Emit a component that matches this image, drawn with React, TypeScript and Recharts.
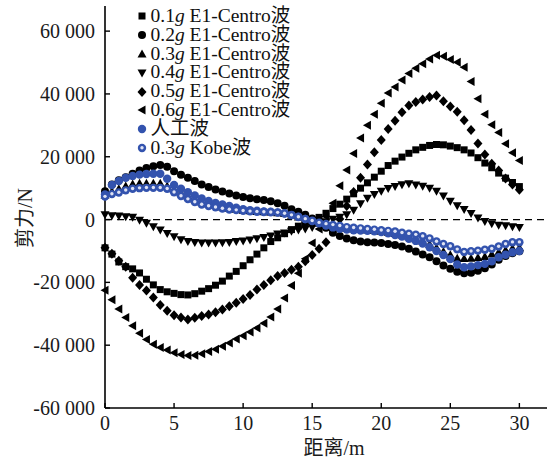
import { ScatterChart, Scatter, XAxis, YAxis, ReferenceLine, Legend } from "recharts";

// Distance along the member (m)
const distance = [
  0, 0.5, 1, 1.5, 2, 2.5, 3, 3.5, 4, 4.5, 5, 5.5, 6, 6.5, 7, 7.5, 8, 8.5, 9, 9.5,
  10, 10.5, 11, 11.5, 12, 12.5, 13, 13.5, 14, 14.5, 15, 15.5, 16, 16.5, 17, 17.5, 18, 18.5, 19, 19.5,
  20, 20.5, 21, 21.5, 22, 22.5, 23, 23.5, 24, 24.5, 25, 25.5, 26, 26.5, 27, 27.5, 28, 28.5, 29, 29.5, 30,
];

// Shear force (N) for each load case
const elCentro01 = [
  -9000, -11000, -13500, -15000, -15700, -17000, -19000, -20800, -22300, -23000,
  -23500, -23900, -24000, -23600, -22800, -22000, -20900, -19600, -18000, -16500,
  -14700, -12800, -11000, -9000, -7000, -5800, -4500, -3200, -2100, -1200,
  -300, 700, 2000, 3500, 4900, 6500, 8200, 10000, 11700, 13500,
  15400, 17200, 18600, 19900, 21100, 22200, 23000, 23600, 23900, 23800,
  23400, 22900, 22200, 21200, 19700, 18000, 16500, 14800, 13200, 11800, 10500,
];
const elCentro02 = [
  9000, 11200, 12500, 13500, 14600, 15600, 16400, 17000, 17400, 16800,
  15400, 14300, 13300, 12300, 11200, 10400, 9600, 8900, 8300, 7700,
  7200, 6800, 6500, 6200, 5800, 5200, 4400, 3300, 2500, 1500,
  300, -1000, -2600, -4200, -5200, -6000, -6600, -7000, -7200, -7300,
  -7500, -7800, -8100, -8600, -9300, -10200, -11100, -12000, -13300, -14600,
  -15700, -16600, -17100, -16900, -16300, -15500, -14300, -12800, -11600, -10700, -10100,
];
const elCentro03 = [
  7800, 9000, 9800, 10700, 11300, 11600, 11600, 11600, 11600, 10700,
  9600, 8500, 7500, 6500, 5600, 5000, 4500, 4000, 3600, 3300,
  3000, 2800, 2600, 2500, 2400, 2200, 1900, 1400, 800, 100,
  -600, -1200, -1700, -2100, -2500, -2800, -3000, -3100, -3300, -3500,
  -3700, -4000, -4400, -4900, -5500, -6100, -6900, -7900, -9000, -10200,
  -11200, -12300, -12400, -12300, -12100, -11800, -11000, -10300, -9700, -9100, -8900,
];
const elCentro04 = [
  1500, 1200, 1100, 900, 700, -200, -1200, -2300, -3300, -4400,
  -5500, -6400, -7000, -7300, -7500, -7500, -7500, -7400, -7300, -7000,
  -6800, -6500, -6100, -5700, -5200, -4600, -4300, -3700, -3300, -3000,
  -2500, -1600, -700, 100, 700, 1500, 3000, 5000, 6800, 8000,
  9000, 9900, 10500, 11100, 11400, 11000, 10600, 10000, 9000, 7500,
  5800, 4400, 3200, 1900, 500, -600, -1300, -1800, -2000, -2300, -2500,
];
const elCentro05 = [
  -9000, -10900, -13100, -15000, -18500, -20800, -22600, -24800, -27200, -29000,
  -30500, -31200, -31800, -31300, -30700, -30200, -29500, -28600, -27600, -26500,
  -25300, -24000, -22300, -20800, -19300, -18000, -17000, -16000, -15000, -13300,
  -11300, -9300, -7200, -3500, 200, 4300, 8800, 13300, 17500, 21400,
  25300, 28800, 31500, 34200, 36300, 37400, 38200, 39000, 39500, 37700,
  36000, 34300, 31600, 28500, 24200, 20700, 17800, 15600, 13100, 11200, 9500,
];
const elCentro06 = [
  -22500, -25500, -28500, -31200, -33800, -36200, -38200, -39700, -40700, -41500,
  -42400, -43000, -43300, -43200, -42700, -42000, -41300, -40300, -39300, -38000,
  -37000, -35800, -34500, -33000, -31000, -28500, -25000, -21000, -17100, -12500,
  -7500, -3000, 1000, 5200, 10800, 15800, 21000, 26000, 30000, 33500,
  37000, 40300, 42200, 44400, 46500, 48200, 49600, 51100, 52300, 52000,
  51000, 50100, 48500, 44000, 38500, 33500, 30200, 27700, 24100, 21300, 18800,
];
const artificial = [
  8000, 11000, 12300, 13300, 13900, 14300, 14500, 14600, 14600, 13000,
  11000, 9800, 8700, 7700, 6700, 5900, 5300, 4800, 4300, 3800,
  3300, 3000, 2800, 2600, 2500, 2300, 2000, 1500, 900, 200,
  -500, -1200, -1900, -2500, -2900, -3200, -3400, -3500, -3600, -3700,
  -4000, -4400, -4900, -5400, -6100, -6800, -7600, -8800, -10000, -11300,
  -12600, -14300, -15200, -14900, -14500, -14100, -13300, -12000, -11200, -10400, -10000,
];
const kobe03 = [
  7300, 8100, 8600, 9300, 9800, 10000, 10100, 10100, 10100, 9800,
  8700, 7500, 6500, 5600, 4800, 4300, 3900, 3500, 3200, 3000,
  2800, 2600, 2500, 2400, 2300, 2200, 1900, 1400, 800, 200,
  -400, -1000, -1400, -1700, -2000, -2400, -2600, -2800, -3000, -3200,
  -3400, -3600, -3800, -4200, -4500, -4800, -5300, -6000, -7000, -7800,
  -8500, -9500, -10300, -10100, -9900, -9600, -9300, -8600, -7800, -7200, -7200,
];

const seriesValues = [elCentro01, elCentro02, elCentro03, elCentro04, elCentro05, elCentro06, artificial, kobe03];
const seriesLevels = ["0.1", "0.2", "0.3", "0.4", "0.5", "0.6", "", "0.3"];
const seriesNames = ["E1-Centro波", "E1-Centro波", "E1-Centro波", "E1-Centro波", "E1-Centro波", "E1-Centro波", "人工波", "Kobe波"];
const markerKinds = ["square", "circle", "up", "down", "diamond", "left", "dot", "ring"];

const xTicks = [0, 5, 10, 15, 20, 25, 30];
const yTicks = [-60000, -40000, -20000, 0, 20000, 40000, 60000];

const BLUE = "#3353ae";
const FONT = "'Liberation Serif', 'Times New Roman', 'Noto Sans CJK SC', serif";

function Marker({ kind, cx, cy }: { kind: string; cx: number; cy: number }) {
  const black = "#000";
  switch (kind) {
    case "square":
      return <rect x={cx - 3.5} y={cy - 3.5} width={7} height={7} fill={black} />;
    case "circle":
      return <circle cx={cx} cy={cy} r={4} fill={black} />;
    case "up":
      return <polygon points={`${cx},${cy - 4.5} ${cx + 4.5},${cy + 3.5} ${cx - 4.5},${cy + 3.5}`} fill={black} />;
    case "down":
      return <polygon points={`${cx - 4.5},${cy - 3.5} ${cx + 4.5},${cy - 3.5} ${cx},${cy + 4.5}`} fill={black} />;
    case "diamond":
      return <polygon points={`${cx},${cy - 5} ${cx + 4.5},${cy} ${cx},${cy + 5} ${cx - 4.5},${cy}`} fill={black} />;
    case "left":
      return <polygon points={`${cx - 4.5},${cy} ${cx + 3.5},${cy - 4.5} ${cx + 3.5},${cy + 4.5}`} fill={black} />;
    case "dot":
      return <circle cx={cx} cy={cy} r={4.2} fill={BLUE} />;
    default:
      return (
        <g>
          <circle cx={cx} cy={cy} r={4.2} fill={BLUE} />
          <circle cx={cx} cy={cy - 0.3} r={1.7} fill="#dfe3f4" />
        </g>
      );
  }
}

const fmt = (v: number) => {
  if (v === 0) return "0";
  const s = Math.abs(v).toString();
  const body = s.slice(0, s.length - 3) + " " + s.slice(-3);
  return (v < 0 ? "-" : "") + body;
};

function LegendBox() {
  return (
    <div style={{ fontFamily: FONT, fontSize: 19.5, color: "#111" }}>
      {seriesNames.map((name, i) => (
        <div key={i} style={{ display: "flex", alignItems: "center", height: 18.8, lineHeight: "18.8px", whiteSpace: "nowrap" }}>
          <svg width={10} height={10} style={{ flex: "none" }}>
            <Marker kind={markerKinds[i]} cx={5} cy={5} />
          </svg>
          <span style={{ marginLeft: 4 }}>
            {seriesLevels[i] ? (
              <>
                {seriesLevels[i]}
                <i>g</i>{" "}
              </>
            ) : null}
            {name}
          </span>
        </div>
      ))}
    </div>
  );
}

export default function App() {
  return (
    <div style={{ position: "absolute", left: 0, top: 0, background: "#fff" }}>
      <ScatterChart width={556} height={458} margin={{ top: 6, right: 9, bottom: 0, left: 0 }}>
        <XAxis
          type="number"
          dataKey="x"
          domain={[0, 32]}
          ticks={xTicks}
          interval={0}
          height={50}
          tickSize={-5}
          tickMargin={13}
          axisLine={{ stroke: "#000", strokeWidth: 1.6 }}
          tickLine={{ stroke: "#000", strokeWidth: 1.4 }}
          tick={{ fill: "#1a1a1a", fontSize: 20, fontFamily: FONT }}
          label={() => (
            <text x={334} y={455} textAnchor="middle" fontSize={20} fontFamily={FONT} fill="#1a1a1a">
              距离/m
            </text>
          )}
        />
        <YAxis
          type="number"
          dataKey="y"
          domain={[-60000, 68000]}
          ticks={yTicks}
          interval={0}
          width={105}
          tickSize={-5}
          tickMargin={15}
          tickFormatter={fmt}
          axisLine={{ stroke: "#000", strokeWidth: 1.6 }}
          tickLine={{ stroke: "#000", strokeWidth: 1.4 }}
          tick={{ fill: "#1a1a1a", fontSize: 20, fontFamily: FONT }}
          label={() => (
            <text
              x={25}
              y={218}
              transform="rotate(-90 25 218)"
              textAnchor="middle"
              dominantBaseline="central"
              fontSize={20}
              fontFamily={FONT}
              fill="#1a1a1a"
            >
              剪力/N
            </text>
          )}
        />
        <ReferenceLine y={0} stroke="#000" strokeWidth={1.3} strokeDasharray="7 5" />
        <Legend
          layout="vertical"
          align="center"
          verticalAlign="middle"
          content={() => <LegendBox />}
          wrapperStyle={{ left: 136.5, top: 7, width: 200 }}
        />
        {seriesValues.map((vals, i) => (
          <Scatter
            key={i}
            name={(seriesLevels[i] ? seriesLevels[i] + "g " : "") + seriesNames[i]}
            data={distance.map((d, j) => ({ x: d, y: vals[j] }))}
            isAnimationActive={false}
            shape={(p: any) => <Marker kind={markerKinds[i]} cx={p.cx} cy={p.cy} />}
          />
        ))}
      </ScatterChart>
    </div>
  );
}
